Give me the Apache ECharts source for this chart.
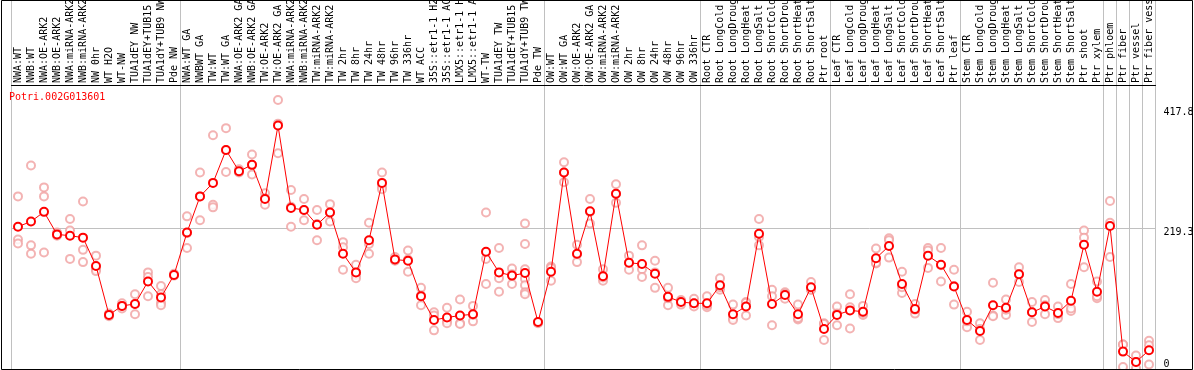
<!DOCTYPE html>
<html>
<head>
<meta charset="utf-8">
<script src="https://cdn.jsdelivr.net/npm/echarts@6/dist/echarts.min.js"></script>
<style>
html,body{margin:0;padding:0;background:#fff;}
#c{width:1194px;height:370px;}
</style>
</head>
<body>
<div id="c"></div>
<script>
const title = "Potri.002G013601";
const categories = [
"NWA:WT","NWB:WT","NWA:OE-ARK2","NWB:OE-ARK2","NWA:miRNA-ARK2","NWB:miRNA-ARK2","NW 0hr","WT H2O","WT-NW","TUA1dEY NW","TUA1dEY+TUB15 NW","TUA1dY+TUB9 NW","Pde NW",
"NWA:WT GA","NWBWT GA","TW:WT","TW:WT GA","NWA:OE-ARK2 GA","NWB:OE-ARK2 GA","TW:OE-ARK2","TW:OE-ARK2 GA","NWA:miRNA-ARK2","NWB:miRNA-ARK2","TW:miRNA-ARK2","TW:miRNA-ARK2","TW 2hr","TW 8hr","TW 24hr","TW 48hr","TW 96hr","TW 336hr","WT ACC","35S::etr1-1 H2O","35S::etr1-1 ACC","LMX5::etr1-1 H2O","LMX5::etr1-1 ACC","WT-TW","TUA1dEY TW","TUA1dEY+TUB15 TW","TUA1dY+TUB9 TW","Pde TW",
"OW:WT","OW:WT GA","OW:OE-ARK2","OW:OE-ARK2 GA","OW:miRNA-ARK2","OW:miRNA-ARK2","OW 2hr","OW 8hr","OW 24hr","OW 48hr","OW 96hr","OW 336hr",
"Root CTR","Root LongCold","Root LongDrought","Root LongHeat","Root LongSalt","Root ShortCold","Root ShortDrought","Root ShortHeat","Root ShortSalt","Ptr root",
"Leaf CTR","Leaf LongCold","Leaf LongDrought","Leaf LongHeat","Leaf LongSalt","Leaf ShortCold","Leaf ShortDrought","Leaf ShortHeat","Leaf ShortSalt","Ptr leaf",
"Stem CTR","Stem LongCold","Stem LongDrought","Stem LongHeat","Stem LongSalt","Stem ShortCold","Stem ShortDrought","Stem ShortHeat","Stem ShortSalt","Ptr shoot","Ptr xylem",
"Ptr phloem","Ptr fiber","Ptr vessel","Ptr fiber vessel"
];
const meanValues = [
221,229,244,209,207,204,160,84,98,101,136,111,146,
212,268,289,340,307,317,264,378,250,247,224,243,179,150,200,289,170,168,113,76,80,83,85,182,150,145,149,73,
151,305,179,245,144,272,165,163,148,112,104,102,
102,130,85,97,210,101,115,85,127,62,
84,91,89,172,191,132,93,176,162,128,
76,59,99,95,147,88,97,87,106,193,120,
222,27,11,29
];
const replicateValues = [
[268,201,195],[316,192,179],[282,268,181],[212,207,208],[233,215,171],[260,185,166],[176,155,152],[83,82,86],[102,94,98],[116,85,101],[150,143,113],[129,116,103,99],[148,145,146],
[237,188,211],[305,231,268],[363,255,251],[374,306,340],[305,310,306],[333,302,317],[273,255,265],[417.8,335,381],[278,221,252],[264,231,247],[247,200,225],[256,229,243],[197,189,154],[162,146,141],[227,194,179],[305,283,279],[174,168,169],[184,151,170],[126,99,114],[88,83,60],[95,75,71],[108,71,70],[98,74,84],[243,171,132],[188,141,120],[156,132,147],[226,194,155,140,130,119,116],[72,73,71],
[159,137,157],[321,290,305],[193,166,178],[264,226,244],[155,137,142],[287,258,272],[176,154,165],[192,155,143],[168,150,126],[126,99,110],[106,100,107],[109,97,102],
[113,96,99],[141,123,127],[100,79,76],[104,83,103],[233,192,205],[123,113,68],[109,119,117],[100,77,79],[135,123,123],[71,45,70],
[97,68,86],[116,63,96],[98,84,87],[187,164,165],[203,173,200],[151,118,127],[101,86,92],[188,184,157],[188,136,161],[154,100,129],
[89,65,74],[71,45,62],[134,83,82],[108,84,92],[158,135,147],[104,73,88],[107,85,99],[97,79,85],[132,90,94],[215,204,158],[136,110,113],
[261,227,174],[38,3,38],[21,1,11],[44,7,37]
];
const groupStarts = [0,13,41,53,63,73,84,85,86,87,88];
const yTickLabelsTop = [219.3, 417.8];
const yTickLabelsBottom = [0];
const referenceLine = 219.3;
const yMax = 441;

const repData = [];
replicateValues.forEach((arr, i) => arr.forEach(v => repData.push([i, v])));

const mono = "'DejaVu Sans Mono', monospace";
const chart = echarts.init(document.getElementById('c'), null, {renderer: 'canvas'});
chart.setOption({
  animation: false,
  backgroundColor: '#fff',
  title: {
    text: title, left: 9, top: 92, padding: 0,
    textStyle: {color: '#ff0000', fontSize: 10, fontWeight: 'normal', fontFamily: mono}
  },
  grid: {left: 11.5, right: 38.5, top: 85, bottom: 1, containLabel: false, outerBoundsMode: 'none'},
  xAxis: {
    type: 'category', data: categories, position: 'top',
    boundaryGap: true,
    axisLine: {show: true, onZero: false, lineStyle: {color: '#000', width: 1}},
    axisTick: {show: false},
    splitLine: {show: false},
    axisLabel: {rotate: -90, align: 'left', verticalAlign: 'middle', interval: 0, margin: 2, color: '#000', fontSize: 10, fontFamily: mono, hideOverlap: false}
  },
  yAxis: [{
    type: 'value', position: 'right', min: 0, max: yMax,
    axisLine: {show: false}, axisTick: {show: false}, splitLine: {show: false},
    axisLabel: {customValues: yTickLabelsTop, margin: 8, verticalAlign: 'top', color: '#000', fontSize: 10, fontFamily: mono,
      formatter: v => (v === yTickLabelsTop[1] ? '{hi|' + v + '}' : String(v)),
      rich: {hi: {padding: [7, 0, 0, 0], fontSize: 10, fontFamily: mono, color: '#000'}}}
  }, {
    type: 'value', position: 'right', min: 0, max: yMax,
    axisLine: {show: false}, axisTick: {show: false}, splitLine: {show: false},
    axisLabel: {customValues: yTickLabelsBottom, margin: 8, verticalAlign: 'bottom', color: '#000', fontSize: 10, fontFamily: mono}
  }],
  graphic: [{
    type: 'rect', shape: {x: 1.5, y: 0.5, width: 1191, height: 369},
    style: {fill: 'none', stroke: '#000', lineWidth: 1}, z: 100, silent: true
  }],
  series: [{
    type: 'custom', xAxisIndex: 0, yAxisIndex: 0,
    data: groupStarts.map(g => [g, 0]),
    encode: {x: 0, y: 1},
    silent: true, z: 0, clip: false,
    renderItem: function (params, api) {
      const idx = api.value(0);
      const band = api.size([1, 0])[0];
      let x;
      if (idx < categories.length) x = api.coord([idx, 0])[0] - band / 2;
      else x = api.coord([categories.length - 1, 0])[0] + band / 2;
      x = Math.floor(x) + 0.5;
      const cs = params.coordSys;
      return {type: 'line', shape: {x1: x, y1: 0, x2: x, y2: cs.y + cs.height},
        style: {stroke: '#c0c0c0', lineWidth: 1}};
    }
  }, {
    type: 'scatter', data: repData, symbol: 'emptyCircle', symbolSize: 8,
    itemStyle: {color: '#f0a0a0', borderColor: '#f0a0a0', borderWidth: 1},
    z: 2, silent: true
  }, {
    type: 'line', data: meanValues, symbol: 'emptyCircle', symbolSize: 8, showAllSymbol: true,
    lineStyle: {color: '#ff0000', width: 1},
    itemStyle: {color: '#ff0000', borderColor: '#ff0000', borderWidth: 1.6},
    z: 3, silent: true,
    markLine: {
      silent: true, symbol: 'none', label: {show: false},
      lineStyle: {color: '#c0c0c0', type: 'solid', width: 1},
      data: [{yAxis: referenceLine}], z: 1
    }
  }]
});
</script>
</body>
</html>
